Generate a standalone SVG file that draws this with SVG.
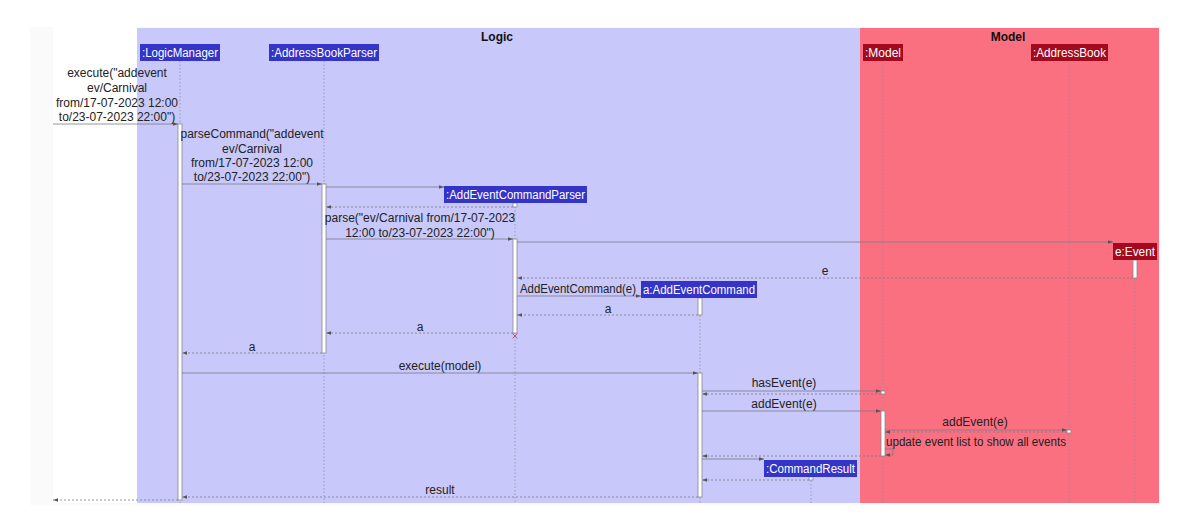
<svg xmlns="http://www.w3.org/2000/svg" width="1183" height="515" viewBox="0 0 1183 515">
<style>
text{font-family:"Liberation Sans",Arial,sans-serif;font-size:12px;fill:#222}
.t{text-anchor:middle}
.title{font-weight:bold;font-size:12px;text-anchor:middle;fill:#111}
.pb{fill:#3434c8}
.pr{fill:#a30a1f}
.pt{fill:#fff;font-size:12px}
.life{stroke:#8a8a9a;stroke-width:0.7;stroke-dasharray:1.5,2;fill:none}
.m{stroke:#7a7a8a;stroke-width:0.8;fill:none;marker-end:url(#ah)}
.r{stroke:#7a7a8a;stroke-width:0.8;fill:none;stroke-dasharray:2,2;marker-end:url(#ah)}
.act{fill:#fff;stroke:#8a8a8a;stroke-width:0.8}
</style>
<defs>
<marker id="ah" viewBox="0 0 6 6" refX="6" refY="3" markerWidth="5" markerHeight="5" orient="auto" markerUnits="userSpaceOnUse">
<path d="M0,1 L6,3 L0,5 z" fill="#555"/>
</marker>
</defs>
<rect x="0" y="0" width="1183" height="515" fill="#fff"/>
<rect x="30" y="27" width="1130" height="478" fill="#fafafa"/>
<rect x="53" y="27" width="84" height="476" fill="#fff"/>
<g id="box-logic">
<rect x="137" y="28" width="723" height="475" fill="#c8c8fa"/>
<text class="title" x="497" y="41">Logic</text>
</g>
<g id="box-model">
<rect x="860" y="28" width="299" height="475" fill="#fb7080"/>
<text class="title" x="1008" y="41">Model</text>
</g>
<g id="lifelines">
<line class="life" x1="180" y1="61" x2="180" y2="503"/>
<line class="life" x1="324" y1="61" x2="324" y2="503"/>
<line class="life" x1="515" y1="203" x2="515" y2="503"/>
<line class="life" x1="700" y1="298" x2="700" y2="503"/>
<line class="life" x1="811" y1="477" x2="811" y2="503"/>
<line class="life" x1="883" y1="61" x2="883" y2="503"/>
<line class="life" x1="1069" y1="61" x2="1069" y2="503"/>
<line class="life" x1="1135" y1="260" x2="1135" y2="503"/>
</g>
<g id="activations">
<rect class="act" x="178" y="124" width="4" height="376"/>
<rect class="act" x="322" y="184" width="4" height="169"/>
<rect class="act" x="513" y="203" width="4" height="4"/>
<rect class="act" x="513" y="239" width="4" height="94"/>
<rect class="act" x="1133" y="260" width="4" height="18"/>
<rect class="act" x="698" y="298" width="4" height="17"/>
<rect class="act" x="698" y="373" width="4" height="124"/>
<rect class="act" x="881" y="391" width="4" height="3"/>
<rect class="act" x="881" y="411" width="4" height="45"/>
<rect class="act" x="1067" y="430" width="4" height="3"/>
<rect class="act" x="809" y="477" width="4" height="3"/>
</g>
<g id="p-logicmanager"><rect class="pb" x="140" y="44" width="80" height="17"/><text class="pt" x="142" y="57" textLength="76" lengthAdjust="spacingAndGlyphs">:LogicManager</text></g>
<g id="p-addressbookparser"><rect class="pb" x="269" y="44" width="110" height="17"/><text class="pt" x="271" y="57" textLength="106" lengthAdjust="spacingAndGlyphs">:AddressBookParser</text></g>
<g id="p-addeventcommandparser"><rect class="pb" x="444" y="186" width="143" height="17"/><text class="pt" x="446" y="199" textLength="139" lengthAdjust="spacingAndGlyphs">:AddEventCommandParser</text></g>
<g id="p-addeventcommand"><rect class="pb" x="641" y="281" width="116" height="17"/><text class="pt" x="643" y="294" textLength="112" lengthAdjust="spacingAndGlyphs">a:AddEventCommand</text></g>
<g id="p-commandresult"><rect class="pb" x="764" y="460" width="93" height="17"/><text class="pt" x="766" y="473" textLength="89" lengthAdjust="spacingAndGlyphs">:CommandResult</text></g>
<g id="p-model"><rect class="pr" x="863" y="44" width="40" height="17"/><text class="pt" x="865" y="57" textLength="36" lengthAdjust="spacingAndGlyphs">:Model</text></g>
<g id="p-addressbook"><rect class="pr" x="1031" y="44" width="77" height="17"/><text class="pt" x="1033" y="57" textLength="73" lengthAdjust="spacingAndGlyphs">:AddressBook</text></g>
<g id="p-event"><rect class="pr" x="1113" y="243" width="44" height="17"/><text class="pt" x="1115" y="256" textLength="40" lengthAdjust="spacingAndGlyphs">e:Event</text></g>
<g id="connectors">
<line class="m" x1="53" y1="124" x2="178" y2="124"/>
<text class="t" x="117" y="77">execute("addevent</text>
<text class="t" x="117" y="92">ev/Carnival</text>
<text class="t" x="117" y="107">from/17-07-2023 12:00</text>
<text class="t" x="117" y="121">to/23-07-2023 22:00")</text>
<line class="m" x1="182" y1="184" x2="322" y2="184"/>
<text class="t" x="252" y="138">parseCommand("addevent</text>
<text class="t" x="252" y="153">ev/Carnival</text>
<text class="t" x="252" y="167">from/17-07-2023 12:00</text>
<text class="t" x="252" y="181">to/23-07-2023 22:00")</text>
<line class="m" x1="326" y1="187" x2="444" y2="187"/>
<line class="r" x1="513" y1="207" x2="326" y2="207"/>
<line class="m" x1="326" y1="239" x2="513" y2="239"/>
<text class="t" x="420" y="222">parse("ev/Carnival from/17-07-2023</text>
<text class="t" x="420" y="237">12:00 to/23-07-2023 22:00")</text>
<line class="m" x1="517" y1="242" x2="1113" y2="242"/>
<line class="r" x1="1133" y1="278" x2="517" y2="278"/>
<text class="t" x="825" y="275">e</text>
<line class="m" x1="517" y1="296" x2="641" y2="296"/>
<text x="520" y="293" textLength="116" lengthAdjust="spacingAndGlyphs">AddEventCommand(e)</text>
<line class="r" x1="698" y1="315" x2="517" y2="315"/>
<text class="t" x="608" y="313">a</text>
<line class="r" x1="513" y1="333" x2="326" y2="333"/>
<text class="t" x="420" y="331">a</text>
<path d="M512.5,333.5 l5,5 M517.5,333.5 l-5,5" stroke="#c0406a" stroke-width="0.9"/>
<line class="r" x1="322" y1="353" x2="182" y2="353"/>
<text class="t" x="252" y="351">a</text>
<line class="m" x1="182" y1="373" x2="698" y2="373"/>
<text class="t" x="440" y="370">execute(model)</text>
<line class="m" x1="702" y1="391" x2="881" y2="391"/>
<text class="t" x="784" y="387">hasEvent(e)</text>
<line class="r" x1="881" y1="394" x2="702" y2="394"/>
<line class="m" x1="702" y1="411" x2="881" y2="411"/>
<text class="t" x="784" y="408">addEvent(e)</text>
<line class="m" x1="885" y1="430" x2="1067" y2="430"/>
<text class="t" x="975" y="426">addEvent(e)</text>
<line class="r" x1="1067" y1="432" x2="885" y2="432"/>
<path class="m" d="M885,449 H893 V455 H885"/>
<text x="886" y="446" textLength="180" lengthAdjust="spacingAndGlyphs">update event list to show all events</text>
<line class="r" x1="881" y1="456" x2="702" y2="456"/>
<line class="m" x1="702" y1="459" x2="764" y2="459"/>
<line class="r" x1="809" y1="480" x2="702" y2="480"/>
<line class="r" x1="698" y1="497" x2="182" y2="497"/>
<text class="t" x="440" y="494">result</text>
<line class="r" x1="178" y1="500" x2="53" y2="500"/>
</g>
</svg>
